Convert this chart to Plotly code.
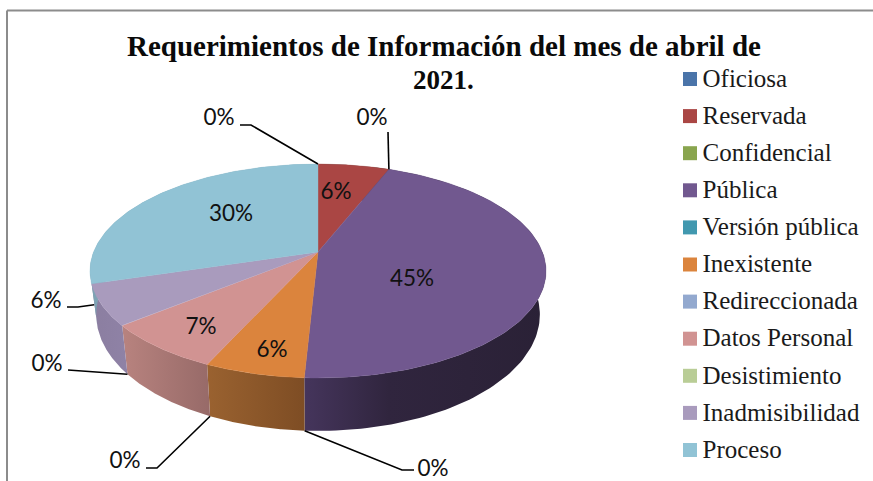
import math
import numpy as np
import plotly.graph_objects as go

categories = ["Oficiosa", "Reservada", "Confidencial", "Pública", "Versión pública", "Inexistente",
              "Redireccionada", "Datos Personal", "Desistimiento", "Inadmisibilidad", "Proceso"]
values = [0, 6.0, 0, 44.8, 0, 6.0, 0, 7.3, 0, 6.2, 29.7]
colors = ["#4a74a9", "#aa4644", "#89a54e", "#71588f", "#4198af", "#db843d",
          "#93a9cf", "#d19392", "#b9cd96", "#a99bbd", "#91c3d5"]
title_lines = ["Requerimientos de Información del mes de abril de", "2021."]
# gradient stops of each side wall, left to right
wall_colors = {
    "Reservada": [[0, "#3a2a2a"], [1, "#3a2a2a"]],
    "Pública": [[0, "#45355c"], [0.35, "#30253e"], [1, "#2a2136"]],
    "Inexistente": [[0, "#9a6230"], [1, "#7e4d24"]],
    "Datos Personal": [[0, "#b8837f"], [1, "#976a68"]],
    "Inadmisibilidad": [[0, "#8b7ea0"], [1, "#8f82a6"]],
    "Proceso": [[0, "#7da3b4"], [1, "#7da3b4"]],
}

# outside labels: (category, label centre, leader elbow, leader stub end, where the leader lands)
outside = [
    ("Oficiosa", (219, 118), (251, 125), (240, 125), "top"),
    ("Confidencial", (372, 118), (388, 132), None, "top"),
    ("Versión pública", (433, 469), (402, 470), (414, 470), "bottom"),
    ("Redireccionada", (125, 461), (157, 468), (146, 468), "bottom"),
    ("Desistimiento", (47, 364), (72, 370), (68, 370), "bottom"),
    ("Inadmisibilidad", (46, 301), (78, 307), (67, 307), "wall"),
]
inside = {"Reservada": (336, 192), "Pública": (412, 279), "Inexistente": (272, 350),
          "Datos Personal": (201, 327), "Proceso": (231, 214)}

CX, CY, A, B, K = 318, 252, 224.4, 103.6, 0.1776
BOT_CY, BOT_SX, BOT_SY = 294, 0.973, 1.087
PCT_FONT = dict(family="Lato", size=22.5, color="#111111")


def top(t):
    X, Y = np.sin(t), np.cos(t)
    w = 1 + K * Y
    return CX + A * X / w, CY - B * Y / w


def bottom(t):
    X, Y = np.sin(t), np.cos(t)
    w = 1 + K * Y
    return CX + BOT_SX * A * X / w, BOT_CY - BOT_SY * B * Y / w


fig = go.Figure()
total = sum(values)
cum = np.cumsum([0] + values) / total * 2 * math.pi
ranges = {c: (cum[i], cum[i + 1]) for i, c in enumerate(categories)}
base = dict(mode="lines", hoverinfo="skip", showlegend=False)

# side walls
for i, c in enumerate(categories):
    if values[i] == 0 or c not in wall_colors:
        continue
    t = np.linspace(*ranges[c], 120)
    xt, yt = top(t)
    xb, yb = bottom(t[::-1])
    scale = wall_colors[c]
    fig.add_trace(go.Scatter(
        x=np.r_[xt, xb], y=np.r_[yt, yb], fill="toself",
        line=dict(width=0, color=scale[0][1]),
        fillgradient=dict(type="horizontal", colorscale=scale),
        **base))

# top face
for i, c in enumerate(categories):
    if values[i] == 0:
        continue
    t = np.linspace(*ranges[c], 120)
    xt, yt = top(t)
    fig.add_trace(go.Scatter(
        x=np.r_[CX, xt, CX], y=np.r_[CY, yt, CY], fill="toself",
        fillcolor=colors[i], line=dict(width=0.4, color=colors[i]), **base))


def pct(c):
    return f"{round(values[categories.index(c)])}%"


# leader lines and outside labels
for c, pos, elbow, stub, kind in outside:
    a = ranges[c][1]
    if kind == "top":
        px, py = top(a)
    elif kind == "bottom":
        px, py = bottom(a)
    else:
        tm = (ranges[c][0] + ranges[c][1]) / 2 + 0.24
        px, py = (np.array(top(tm)) + 1.4 * np.array(bottom(tm))) / 2.4
    xs = [float(px), elbow[0]] + ([stub[0]] if stub else [])
    ys = [float(py), elbow[1]] + ([stub[1]] if stub else [])
    fig.add_trace(go.Scatter(x=xs, y=ys, line=dict(color="#000000", width=1.6), **base))
    fig.add_trace(go.Scatter(x=[pos[0]], y=[pos[1] + 1.5], mode="text", text=[pct(c)],
                             textposition="middle center", textfont=PCT_FONT,
                             hoverinfo="skip", showlegend=False))

# inside labels
for c, pos in inside.items():
    fig.add_trace(go.Scatter(x=[pos[0]], y=[pos[1] + 1.5], mode="text", text=[pct(c)],
                             textposition="middle center", textfont=PCT_FONT,
                             hoverinfo="skip", showlegend=False))

# legend
ly = [79 + 37.1 * i for i in range(len(categories))]
fig.add_trace(go.Scatter(x=[690] * len(categories), y=ly, mode="markers",
                         marker=dict(symbol="square", size=14, color=colors, line=dict(width=0)),
                         hoverinfo="skip", showlegend=False))
fig.add_trace(go.Scatter(x=[702.5] * len(categories), y=[v + 1.5 for v in ly], mode="text", text=categories,
                         textposition="middle right",
                         textfont=dict(family="Liberation Serif", size=25, color="#1a1a1a"),
                         hoverinfo="skip", showlegend=False))

for line, y, size in zip(title_lines, [46, 80], [29, 27]):
    fig.add_annotation(x=443.5, y=y, xref="x", yref="y", showarrow=False, align="center",
                       text=f"<b>{line}</b>",
                       font=dict(family="Liberation Serif", size=size, color="#0a0a0a"))

frame = dict(color="#8c8c8c", width=2)
fig.add_shape(type="line", x0=7, x1=7, y0=10.5, y1=481, line=frame)
fig.add_shape(type="line", x0=7, x1=873, y0=10.5, y1=10.5, line=frame)

fig.update_layout(
    width=873, height=481, margin=dict(l=0, r=0, t=0, b=0),
    paper_bgcolor="white", plot_bgcolor="white", autosize=False,
    xaxis=dict(range=[0, 873], visible=False, fixedrange=True),
    yaxis=dict(range=[481, 0], visible=False, fixedrange=True),
)
fig.write_html("out.html", config=dict(displayModeBar=False),
               post_script="document.body.style.margin='0';")
